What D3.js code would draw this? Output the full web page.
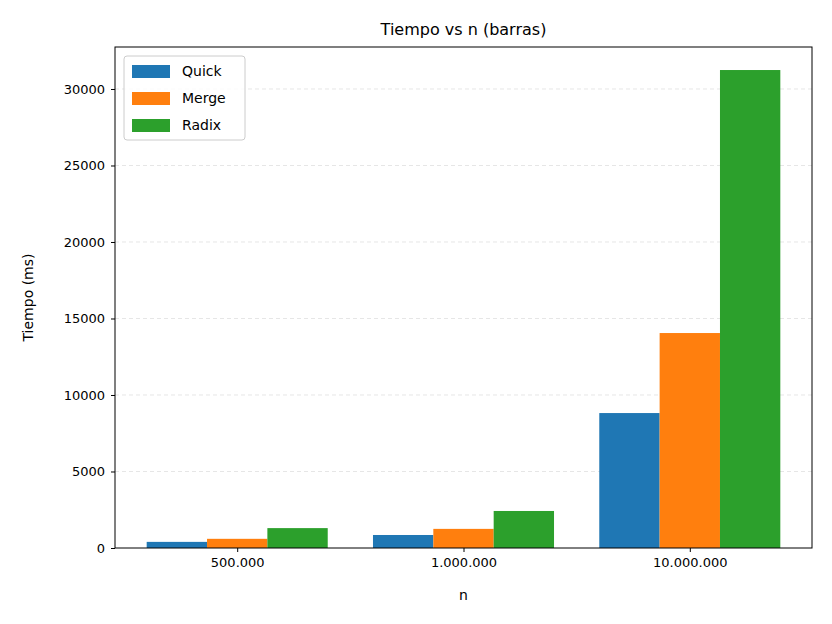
<!DOCTYPE html>
<html>
<head>
<meta charset="UTF-8" />
<script src="https://cdn.jsdelivr.net/npm/d3@7"></script>
<style>
  body { margin: 0; background: #fff; }
  svg { font-family: "DejaVu Sans", sans-serif; }
</style>
</head>
<body>
<svg width="832" height="624"></svg>
<script>
const categories = ["500.000", "1.000.000", "10.000.000"];
const seriesNames = ["Quick", "Merge", "Radix"];
const quick = [400, 850, 8820];
const merge = [600, 1250, 14050];
const radix = [1300, 2420, 31240];
const yTicks = [0, 5000, 10000, 15000, 20000, 25000, 30000];
const colors = ["#1f77b4", "#ff7f0e", "#2ca02c"];
const series = [quick, merge, radix];

const svg = d3.select("svg");
const mLeft = 115, mRight = 812, mTop = 47, mBottom = 548;
const bw = 0.8 / 3;

let x = d3.scaleLinear().domain([-0.54, 2.54]).range([mLeft, mRight]);
let y = d3.scaleLinear().domain([0, 32745]).range([mBottom, mTop]);

// grid
svg.selectAll("line.grid").data(yTicks.slice(1)).enter().append("line")
  .attr("x1", mLeft).attr("x2", mRight)
  .attr("y1", d => y(d)).attr("y2", d => y(d))
  .attr("stroke", "#e6e6e6").attr("stroke-dasharray", "4,3");

// bars
series.forEach((vals, s) => {
  svg.selectAll("rect.s" + s).data(vals).enter().append("rect")
    .attr("x", (d, i) => x(i + (s - 1) * bw - bw / 2))
    .attr("width", x(bw) - x(0))
    .attr("y", d => y(d))
    .attr("height", d => y(0) - y(d))
    .attr("fill", colors[s]);
});

// axes
svg.append("g").attr("transform", `translate(0,${mBottom})`)
  .call(d3.axisBottom(x).tickValues([0, 1, 2]).tickFormat(i => categories[i]).tickSize(4).tickPadding(6))
  .call(g => g.select(".domain").remove());
svg.append("g").attr("transform", `translate(${mLeft},0)`)
  .call(d3.axisLeft(y).tickValues(yTicks).tickFormat(d => d).tickSize(4).tickPadding(6))
  .call(g => g.select(".domain").remove());
svg.selectAll(".tick text").attr("font-size", 13).attr("fill", "#000")
  .attr("font-family", "DejaVu Sans, sans-serif");

svg.append("rect").attr("x", mLeft).attr("y", mTop)
  .attr("width", mRight - mLeft).attr("height", mBottom - mTop)
  .attr("fill", "none").attr("stroke", "#000");

// labels
svg.append("text").attr("x", (mLeft + mRight) / 2).attr("y", 35).attr("text-anchor", "middle")
  .attr("font-size", 16).text("Tiempo vs n (barras)");
svg.append("text").attr("x", (mLeft + mRight) / 2).attr("y", 600).attr("text-anchor", "middle")
  .attr("font-size", 14).text("n");
svg.append("text").attr("transform", `translate(33,${(mTop + mBottom) / 2}) rotate(-90)`)
  .attr("text-anchor", "middle").attr("font-size", 14).text("Tiempo (ms)");

// legend
const lg = svg.append("g").attr("transform", "translate(124,56)");
lg.append("rect").attr("width", 121).attr("height", 84).attr("rx", 3)
  .attr("fill", "#fff").attr("fill-opacity", 0.8).attr("stroke", "#ccc");
seriesNames.forEach((n, i) => {
  lg.append("rect").attr("x", 8).attr("y", 9 + i * 27).attr("width", 38).attr("height", 13).attr("fill", colors[i]);
  lg.append("text").attr("x", 58).attr("y", 20 + i * 27).attr("font-size", 14).text(n);
});
</script>
</body>
</html>
